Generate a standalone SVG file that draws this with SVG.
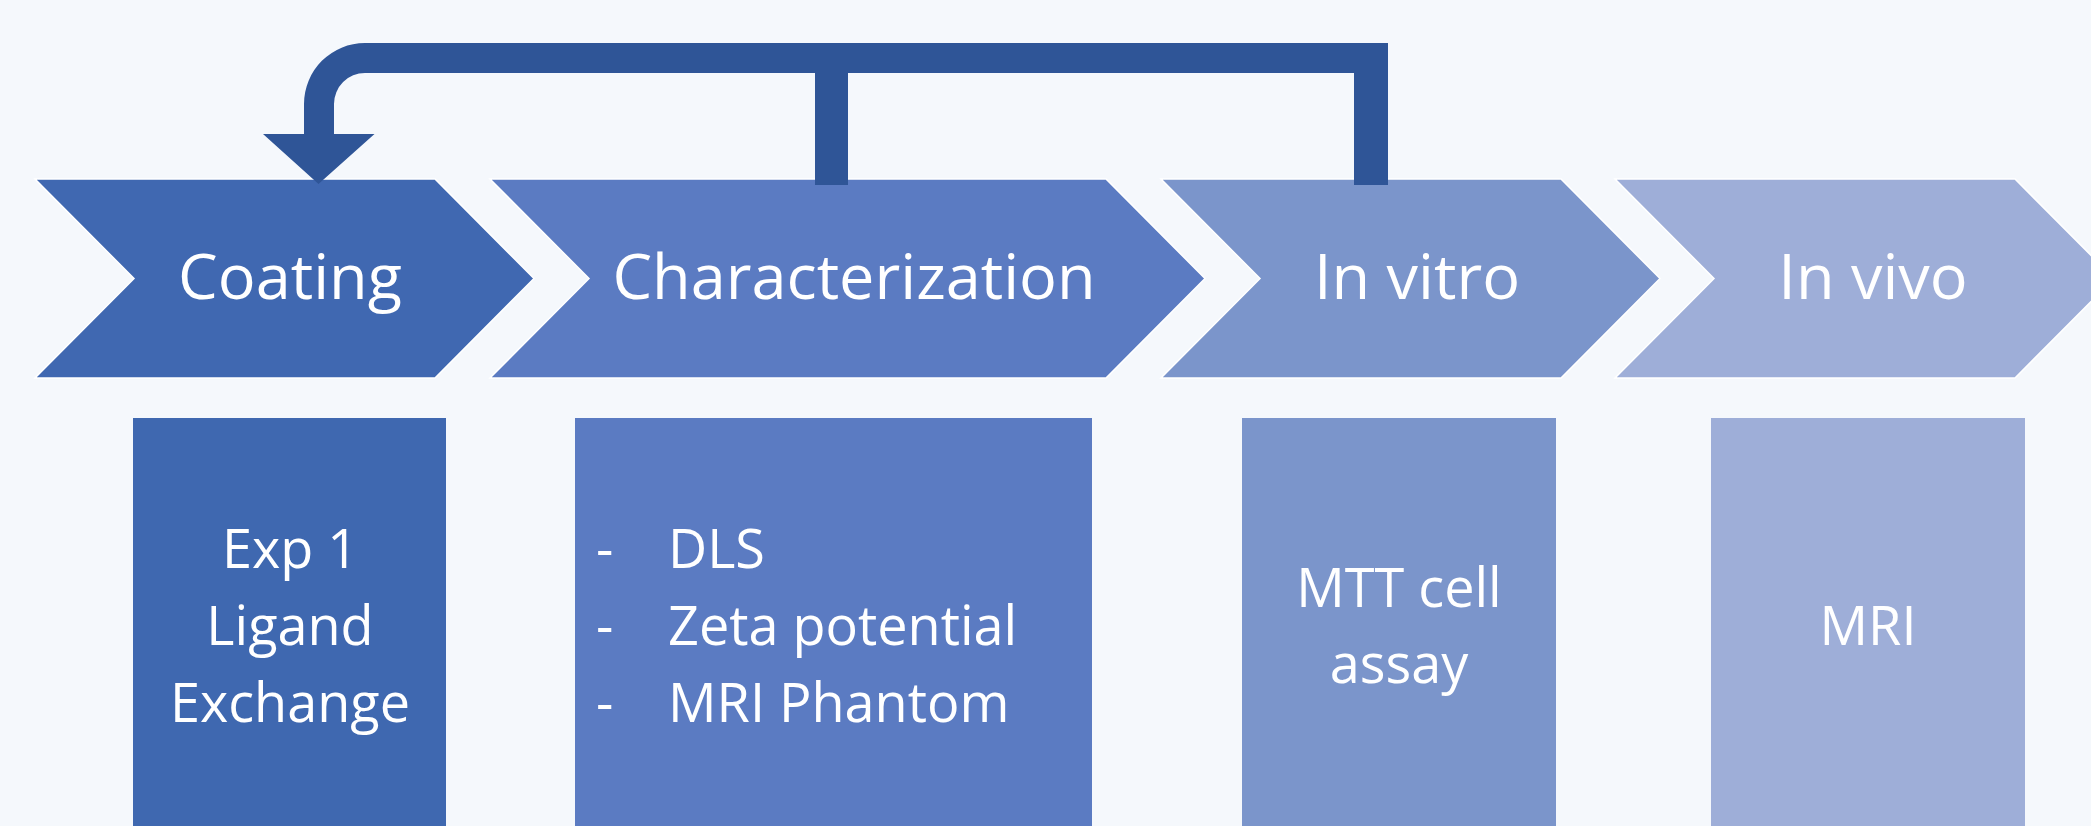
<svg xmlns="http://www.w3.org/2000/svg" width="2091" height="826" viewBox="0 0 2091 826">
<style>
.chev{stroke:#ffffff;stroke-width:1.5}
.t{font-family:"Open Sans","Liberation Sans",sans-serif;fill:#ffffff}
.big{font-size:63px;text-anchor:middle}
.mid{font-size:54px;text-anchor:middle}
.lst{font-size:54px}
</style>
<rect x="0" y="0" width="2091" height="826" fill="#F5F8FC"/>
<g id="coating">
<polygon class="chev" fill="#4068B1" points="35,179 435,179 534,278.5 435,378 35,378 134,278.5"/>
<text class="t big" x="290" y="299">Coating</text>
</g>
<g id="characterization">
<polygon class="chev" fill="#5B7BC2" points="490,179 1106,179 1205,278.5 1106,378 490,378 589,278.5"/>
<text class="t big" x="854" y="299">Characterization</text>
</g>
<g id="invitro">
<polygon class="chev" fill="#7B95CB" points="1161,179 1561,179 1660,278.5 1561,378 1161,378 1260,278.5"/>
<text class="t big" x="1417" y="299">In vitro</text>
</g>
<g id="invivo">
<polygon class="chev" fill="#9EAED8" points="1615,179 2015,179 2114,278.5 2015,378 1615,378 1714,278.5"/>
<text class="t big" x="1873" y="299">In vivo</text>
</g>
<g id="box-coating">
<rect x="133" y="418" width="313" height="420" fill="#3F68B0"/>
<text class="t mid" x="290" y="568">Exp 1</text>
<text class="t mid" x="290" y="645">Ligand</text>
<text class="t mid" x="290" y="722">Exchange</text>
</g>
<g id="box-characterization">
<rect x="575" y="418" width="517" height="420" fill="#5B7BC2"/>
<text class="t lst" x="596" y="568">-</text>
<text class="t lst" x="668" y="568">DLS</text>
<text class="t lst" x="596" y="645">-</text>
<text class="t lst" x="668" y="645">Zeta potential</text>
<text class="t lst" x="596" y="722">-</text>
<text class="t lst" x="668" y="722">MRI Phantom</text>
</g>
<g id="box-invitro">
<rect x="1242" y="418" width="314" height="420" fill="#7B95CB"/>
<text class="t mid" x="1399" y="607">MTT cell</text>
<text class="t mid" x="1399" y="683">assay</text>
</g>
<g id="box-invivo">
<rect x="1711" y="418" width="314" height="420" fill="#9EAED8"/>
<text class="t mid" x="1868" y="645">MRI</text>
</g>
<g id="connectors">
<path fill="#2F5597" d="M318.5,184 L374.5,134 L334,134 L334,104 A31,31 0 0 1 365,73 L815,73 L815,185 L848,185 L848,73 L1354,73 L1354,185 L1388,185 L1388,43 L365,43 A61,61 0 0 0 304,104 L304,134 L263,134 Z"/>
</g>
</svg>
